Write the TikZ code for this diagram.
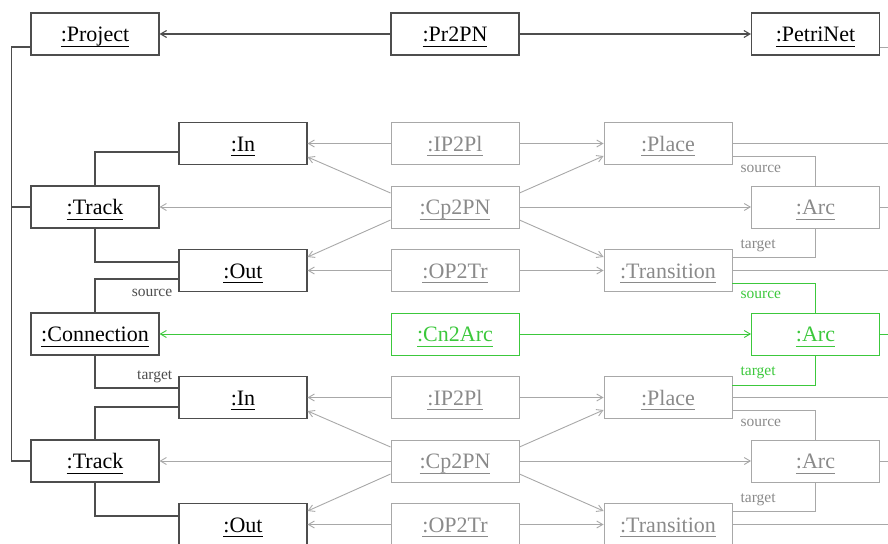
\documentclass[tikz,border=0pt]{standalone}
\usepackage{fontspec}
\setmainfont{Liberation Serif}
\usetikzlibrary{arrows.meta}

\definecolor{dk}{HTML}{4D4D4D}
\definecolor{lt}{HTML}{A8A8A8}
\definecolor{lttext}{HTML}{8A8A8A}
\definecolor{gr}{HTML}{3CC83C}

% object name, underlined at a fixed depth below the baseline
\newsavebox\objbox
\newcommand\objname[1]{\sbox\objbox{#1}\rlap{\rule[-5pt]{\wd\objbox}{0.8pt}}\usebox\objbox}

\tikzset{
  obj/.style={draw, minimum width=128pt, minimum height=42pt, inner sep=0pt,
    font=\fontsize{22}{24}\selectfont, text height=15pt, text depth=0pt},
  darkobj/.style={obj, draw=dk, line width=1.1pt, text=black},
  lightobj/.style={obj, draw=lt, line width=0.9pt, text=lttext},
  greenobj/.style={obj, draw=gr, line width=0.9pt, text=gr},
  darkline/.style={draw=dk, line width=1.1pt},
  lightline/.style={draw=lt, line width=0.9pt},
  greenline/.style={draw=gr, line width=0.9pt},
  arr/.style={-{Straight Barb[length=6pt,width=7pt]}},
  role/.style={font=\fontsize{15.5}{17}\selectfont, inner sep=0pt,
    text height=7pt, text depth=0pt},
}

\begin{document}
\begin{tikzpicture}[x=1pt, y=-1pt]
\useasboundingbox (0,0) rectangle (888,543);
\clip (0,0) rectangle (888,543);
\coordinate (rim) at (892,0);

% top level
\node[darkobj] (project)  at (95,34)    {\objname{:Project}};
\node[darkobj] (pr2pn)    at (455,34)   {\objname{:Pr2PN}};
\node[darkobj] (petrinet) at (815.5,34) {\objname{:PetriNet}};

% first track
\node[darkobj]  (inA)    at (243,143.5)   {\objname{:In}};
\node[lightobj] (ipA)    at (455,143.5)   {\objname{:IP2Pl}};
\node[lightobj] (placeA) at (668,143.5)   {\objname{:Place}};
\node[darkobj]  (trackA) at (95,207)      {\objname{:Track}};
\node[lightobj] (cpA)    at (455,207)     {\objname{:Cp2PN}};
\node[lightobj] (arcA)   at (815.5,207)   {\objname{:Arc}};
\node[darkobj]  (outA)   at (243,270.5)   {\objname{:Out}};
\node[lightobj] (opA)    at (455,270.5)   {\objname{:OP2Tr}};
\node[lightobj] (trA)    at (668,270.5)   {\objname{:Transition}};

% connection
\node[darkobj]  (conn)   at (95,334)      {\objname{:Connection}};
\node[greenobj] (cn2arc) at (455,334)     {\objname{:Cn2Arc}};
\node[greenobj] (arcC)   at (815.5,334)   {\objname{:Arc}};

% second track
\node[darkobj]  (inB)    at (243,397.5)   {\objname{:In}};
\node[lightobj] (ipB)    at (455,397.5)   {\objname{:IP2Pl}};
\node[lightobj] (placeB) at (668,397.5)   {\objname{:Place}};
\node[darkobj]  (trackB) at (95,461)      {\objname{:Track}};
\node[lightobj] (cpB)    at (455,461)     {\objname{:Cp2PN}};
\node[lightobj] (arcB)   at (815.5,461)   {\objname{:Arc}};
\node[darkobj]  (outB)   at (243,524.5)   {\objname{:Out}};
\node[lightobj] (opB)    at (455,524.5)   {\objname{:OP2Tr}};
\node[lightobj] (trB)    at (668,524.5)   {\objname{:Transition}};

% top-level correspondence
\draw[darkline,arr] (pr2pn) -- (project);
\draw[darkline,arr] (pr2pn) -- (petrinet);
\draw[lightline] ([yshift=-13pt]petrinet.east) -- ([yshift=-13pt]petrinet.east -| rim);

% project structure
\draw[darkline] ([yshift=-13pt]project.west) -- ++(-19,0) coordinate (spine) |- (trackB.west);
\draw[darkline] (trackA.west) -- (trackA.west -| spine);
\draw[darkline] (trackA.north) |- ([yshift=-8.5pt]inA.west);
\draw[darkline] (trackA.south) |- ([yshift=8.5pt]outA.west);
\draw[darkline] ([yshift=-8.5pt]outA.west) -| (conn.north);
\node[role, text=dk, anchor=east] (srcL) at ([xshift=-6pt,yshift=-22.5pt]outA.west) {source};
\draw[darkline] (conn.south) |- ([yshift=9.5pt]inB.west);
\node[role, text=dk, anchor=east] (tgtL) at ([xshift=-6pt,yshift=21.5pt]inB.west) {target};
\draw[darkline] (trackB.north) |- ([yshift=-9.5pt]inB.west);
\draw[darkline] (trackB.south) |- ([yshift=8.5pt]outB.west);

% correspondences of the two tracks
\foreach \t in {A,B}{
  \draw[lightline,arr] (ip\t) -- (in\t);
  \draw[lightline,arr] (ip\t) -- (place\t);
  \draw[lightline,arr] (cp\t) -- (track\t);
  \draw[lightline,arr] (cp\t) -- (arc\t);
  \draw[lightline,arr] (op\t) -- (out\t);
  \draw[lightline,arr] (op\t) -- (tr\t);
  \draw[lightline,arr] ([yshift=14pt]cp\t.west) -- ([yshift=-13.5pt]in\t.east);
  \draw[lightline,arr] ([yshift=-13pt]cp\t.west) -- ([yshift=13.5pt]out\t.east);
  \draw[lightline,arr] ([yshift=14pt]cp\t.east) -- ([yshift=-12.5pt]place\t.west);
  \draw[lightline,arr] ([yshift=-13pt]cp\t.east) -- ([yshift=13.5pt]tr\t.west);
  % petri net structure
  \draw[lightline] (place\t.east) -- (place\t.east -| rim);
  \draw[lightline] ([yshift=-12.5pt]place\t.east) -| (arc\t.north);
  \node[role, text=lttext, anchor=west] at ([xshift=8pt,yshift=-25pt]place\t.east) {source};
  \draw[lightline] (arc\t.east) -- (arc\t.east -| rim);
  \draw[lightline] (arc\t.south) |- ([yshift=13pt]tr\t.east);
  \node[role, text=lttext, anchor=west] at ([xshift=8pt,yshift=26pt]tr\t.east) {target};
  \draw[lightline] (tr\t.east) -- (tr\t.east -| rim);
}

% connection correspondence
\draw[greenline,arr] (cn2arc) -- (conn);
\draw[greenline,arr] (cn2arc) -- (arcC);
\draw[greenline] ([yshift=-12.5pt]trA.east) -| (arcC.north);
\node[role, text=gr, anchor=west] (srcG) at ([xshift=8pt,yshift=-24.5pt]trA.east) {source};
\draw[greenline] (arcC.east) -- (arcC.east -| rim);
\draw[greenline] (arcC.south) |- ([yshift=12.5pt]placeB.east);
\node[role, text=gr, anchor=west] (tgtG) at ([xshift=8pt,yshift=26pt]placeB.east) {target};
\end{tikzpicture}
\end{document}
